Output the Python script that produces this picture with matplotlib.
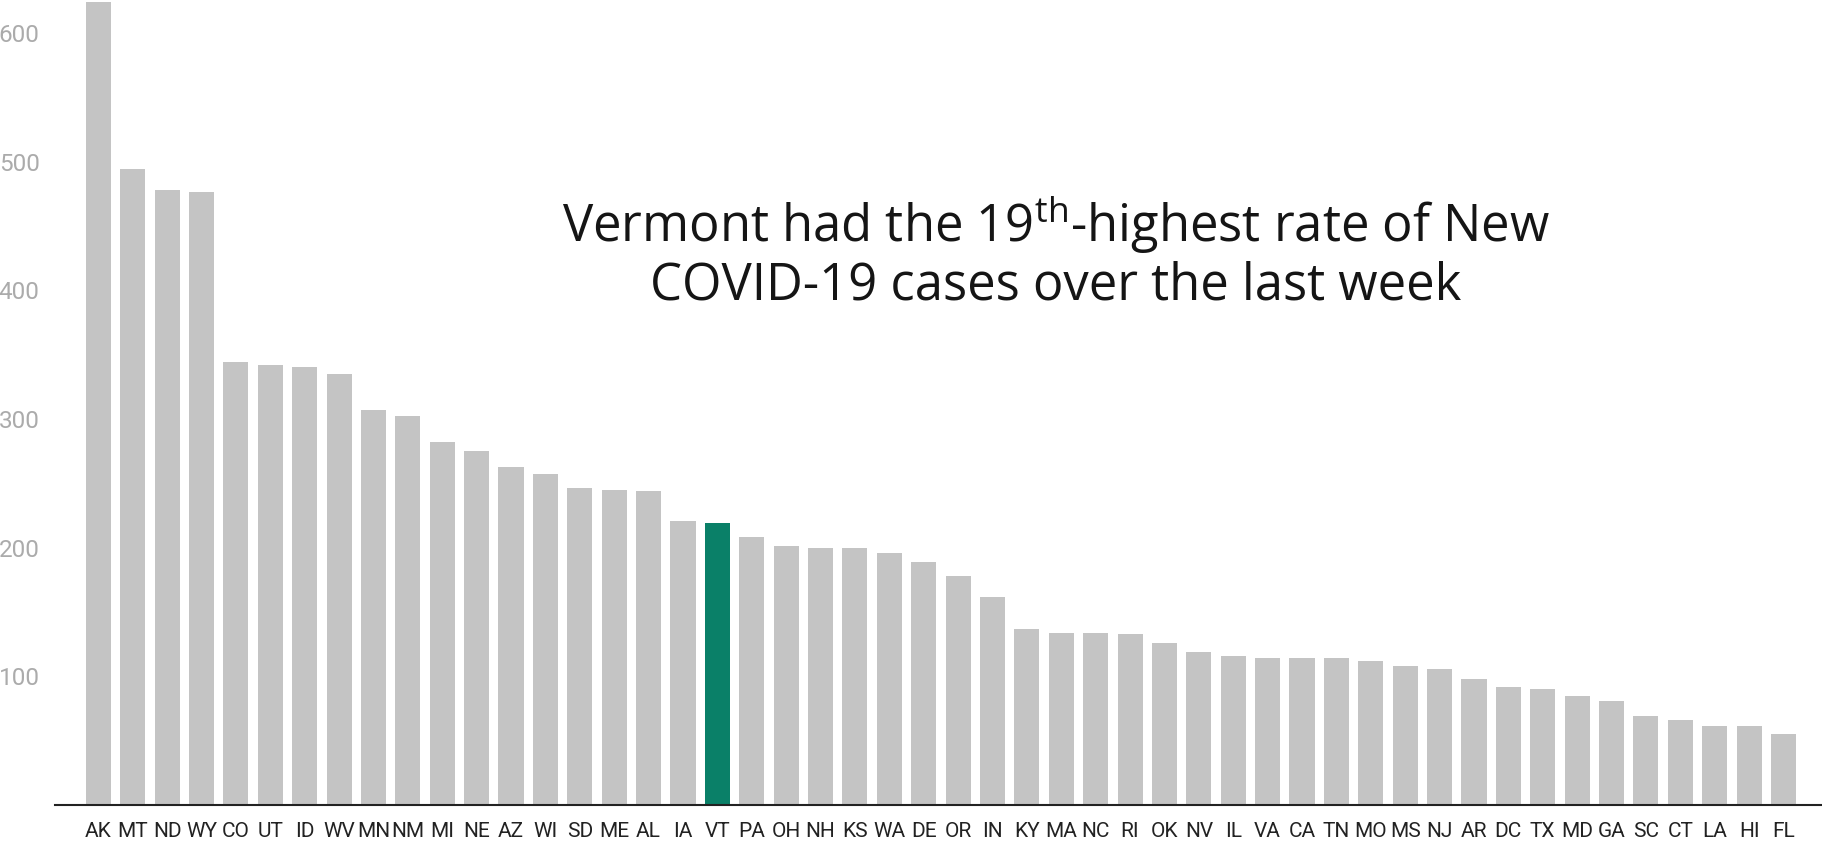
import matplotlib
matplotlib.use("Agg")
import matplotlib.pyplot as plt
import numpy as np

# states ranked by new cases per 100k over the last week
states = ["AK", "MT", "ND", "WY", "CO", "UT", "ID", "WV", "MN", "NM",
          "MI", "NE", "AZ", "WI", "SD", "ME", "AL", "IA", "VT", "PA",
          "OH", "NH", "KS", "WA", "DE", "OR", "IN", "KY", "MA", "NC",
          "RI", "OK", "NV", "IL", "VA", "CA", "TN", "MO", "MS", "NJ",
          "AR", "DC", "TX", "MD", "GA", "SC", "CT", "LA", "HI", "FL"]
rates = [624, 494, 478, 476, 344, 342, 340, 335, 307, 302,
         282, 275, 263, 257, 246, 245, 244, 221, 219, 208,
         201, 200, 200, 196, 189, 178, 162, 137, 134, 134,
         133, 126, 119, 116, 114, 114, 114, 112, 108, 106,
         98, 92, 90, 85, 81, 69, 66, 61, 61, 55]
yticks = [100, 200, 300, 400, 500, 600]
highlight = "VT"

plt.rcParams['mathtext.fontset'] = 'custom'
plt.rcParams['mathtext.rm'] = 'Open Sans'

fig = plt.figure(figsize=(18.22, 8.43), dpi=100)
ax = fig.add_axes([55 / 1822, 38 / 843, 1 - 55 / 1822, 805 / 843])

x = np.arange(len(states))
colors = ["#0a8068" if s == highlight else "#c4c4c4" for s in states]
ax.bar(x, rates, width=0.73, color=colors)

ax.set_xlim(-1.26, len(states) - 1 + 1.12)
ax.set_ylim(0, 625.5)
ax.set_yticks(yticks)
ax.set_yticklabels([str(v) for v in yticks], fontsize=17.5, color="#ababab",
                   family="Roboto")
ax.set_xticks(x)
ax.set_xticklabels(states, fontsize=15, color="#222222", family="Roboto")
ax.tick_params(axis="y", length=0, pad=11)
ax.tick_params(axis="x", length=0, pad=12)

for side in ["top", "right", "left"]:
    ax.spines[side].set_visible(False)
ax.spines["bottom"].set_color("#222222")
ax.spines["bottom"].set_linewidth(1.5)

fig.text(1056 / 1822, 1 - 242 / 843,
         "Vermont had the 19$^{\\mathrm{th}}$-highest rate of New",
         ha="center", va="baseline", fontsize=36.5, family="Open Sans",
         color="#151515")
fig.text(1056 / 1822, 1 - 300 / 843,
         "COVID-19 cases over the last week",
         ha="center", va="baseline", fontsize=36.5, family="Open Sans",
         color="#151515")

fig.savefig("out.png", dpi=100)
